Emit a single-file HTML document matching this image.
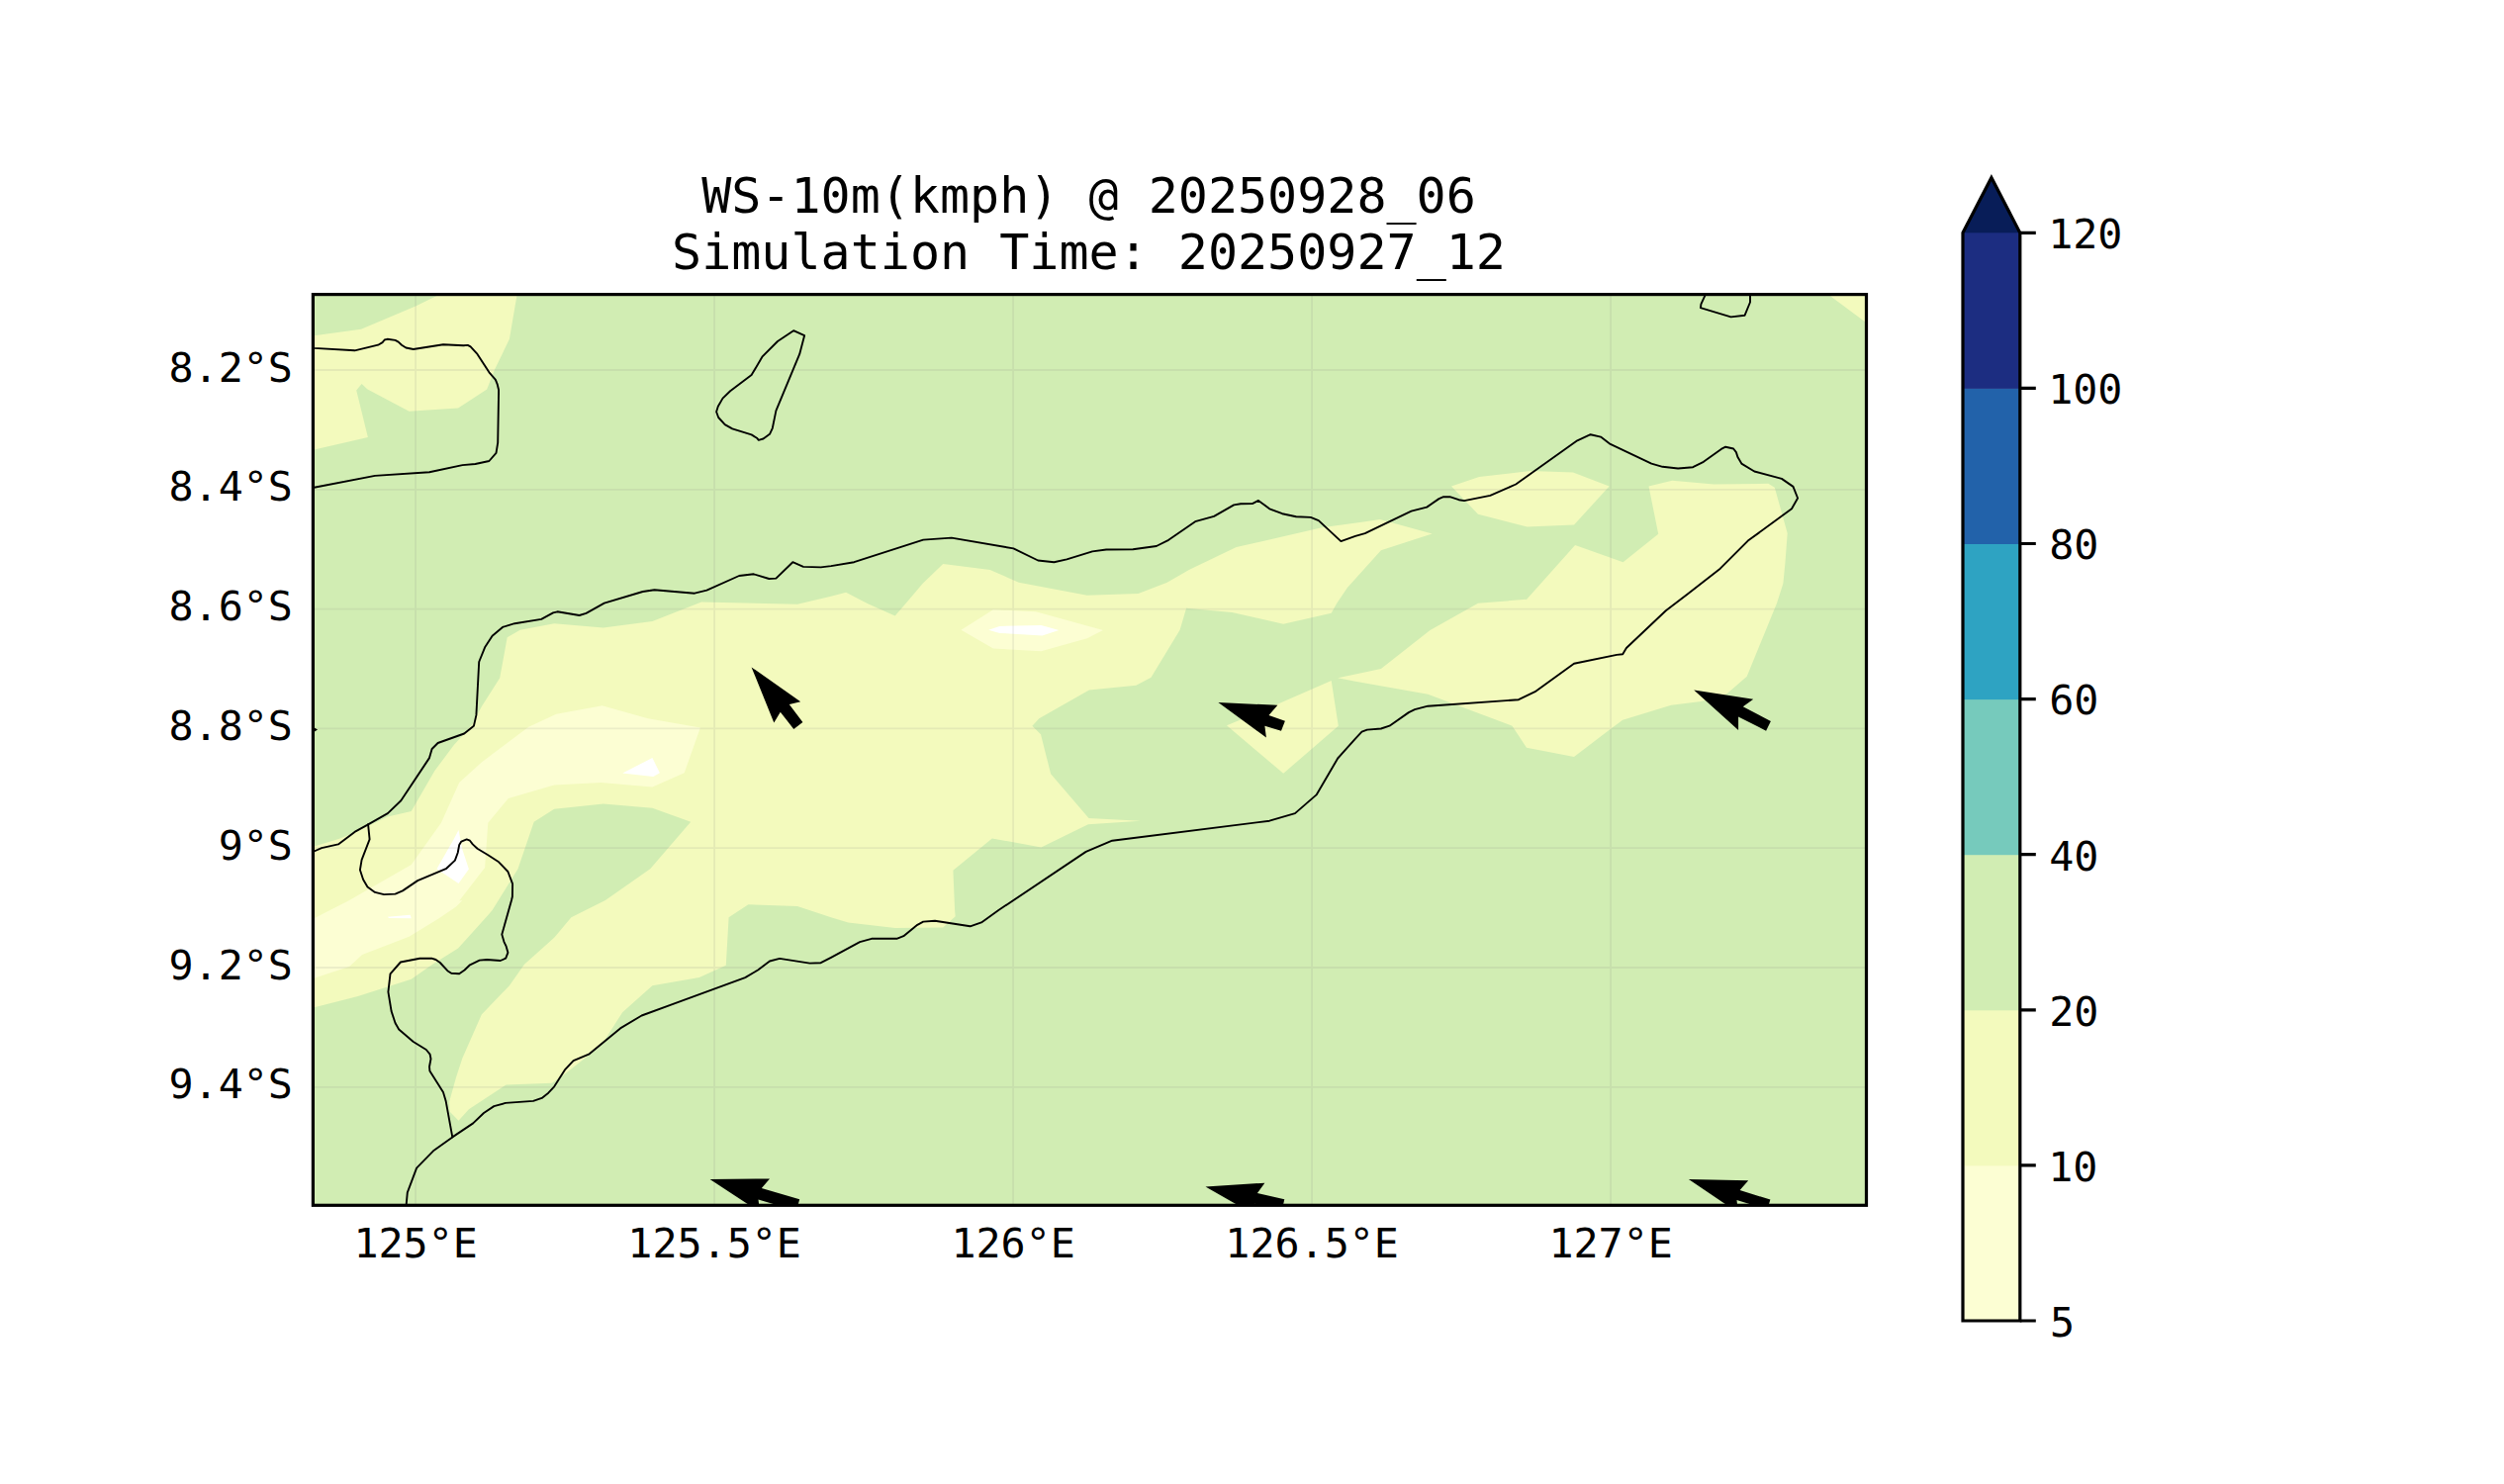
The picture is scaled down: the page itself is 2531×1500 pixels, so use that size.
<!DOCTYPE html>
<html lang="en"><head><meta charset="utf-8"><title>WS-10m(kmph) @ 20250928_06</title>
<style>html,body{margin:0;padding:0;background:#fff}body{width:2531px;height:1500px;overflow:hidden}svg{display:block}text{font-family:"DejaVu Sans Mono","Liberation Mono",monospace;fill:#000}</style>
</head><body>
<svg width="2531" height="1500" viewBox="0 0 2531 1500">
<defs><clipPath id="ax"><rect x="316.4" y="297.6" width="1570.1" height="920.7"/></clipPath></defs>
<rect x="0" y="0" width="2531" height="1500" fill="#fff"/>
<text x="1100.5" y="215" font-size="50" text-anchor="middle" xml:space="preserve">WS-10m(kmph) @ 20250928_06</text>
<text x="1100.5" y="272" font-size="50" text-anchor="middle" xml:space="preserve">Simulation Time: 20250927_12</text>
<g clip-path="url(#ax)">
<rect x="316.4" y="297.6" width="1570.1" height="920.7" fill="#d1edb3"/>
<path d="M299.2,855.6 L317.5,855.6 L342.3,848.0 L358.5,841.5 L391.9,825.4 L415.7,820.0 L439.4,779.0 L458.8,753.1 L469.6,741.3 L477.1,732.6 L486.8,714.3 L505.2,685.2 L512.7,644.2 L525.7,636.7 L560.2,630.2 L609.8,634.5 L659.4,628.0 L709.0,608.6 L806.0,610.8 L840.0,602.7 L855.1,598.8 L876.7,610.0 L904.7,622.6 L915.5,610.0 L932.7,589.8 L953.2,569.9 L1000.7,576.0 L1029.8,588.7 L1098.8,601.8 L1150.5,600.1 L1179.7,588.7 L1202.3,575.7 L1249.7,553.1 L1336.0,533.3 L1380.0,527.2 L1394.8,525.1 L1447.6,539.5 L1395.9,556.3 L1361.9,594.1 L1351.1,610.0 L1345.7,619.8 L1297.2,630.8 L1245.4,619.0 L1199.1,614.7 L1192.6,636.7 L1163.5,684.8 L1148.4,692.7 L1100.9,697.5 L1050.3,726.2 L1043.4,733.7 L1052.0,742.3 L1062.1,782.2 L1100.5,826.9 L1152.7,829.7 L1099.9,833.3 L1052.4,856.6 L1002.8,847.4 L963.4,879.7 L965.1,920.0 L965.7,926.2 L953.2,937.6 L904.7,938.0 L857.3,932.6 L840.0,927.3 L806.0,916.0 L756.4,914.3 L736.6,927.3 L733.8,975.8 L706.8,988.1 L659.4,996.3 L629.2,1023.2 L611.9,1050.2 L596.8,1065.3 L572.0,1084.7 L558.0,1094.8 L511.6,1096.5 L473.9,1121.3 L463.5,1132.8 L454.5,1123.5 L454.1,1113.8 L461.0,1089.0 L467.4,1069.6 L486.8,1025.4 L514.9,996.3 L530.0,974.7 L560.2,947.7 L577.4,927.3 L611.9,910.0 L657.2,878.2 L698.2,830.8 L659.4,816.7 L609.8,812.4 L560.2,817.8 L539.7,830.8 L523.5,878.2 L497.6,920.0 L493.3,925.1 L482.5,937.0 L463.1,958.5 L437.2,974.7 L415.7,989.8 L361.8,1007.0 L317.5,1018.3 L299.2,1022.1Z" fill="#f3fabd"/>
<path d="M1666.5,491.6 L1690.2,485.8 L1732.3,489.5 L1787.3,488.8 L1793.8,492.7 L1806.7,539.1 L1804.5,568.2 L1802.4,589.8 L1795.9,610.0 L1765.7,683.7 L1745.2,701.4 L1719.4,708.9 L1689.2,712.8 L1640.2,727.7 L1627.7,736.9 L1591.0,765.0 L1543.0,755.7 L1528.5,733.7 L1443.3,701.8 L1370.0,688.8 L1352.2,685.2 L1370.0,681.5 L1395.9,675.9 L1445.5,637.1 L1494.0,609.7 L1542.5,605.8 L1542.5,606.6 L1592.1,550.9 L1640.6,568.2 L1676.2,539.7Z" fill="#f3fabd"/>
<path d="M299.2,340.7 L317.5,339.2 L365.0,332.7 L420.0,309.4 L441.5,299.1 L461.0,285.7 L523.5,285.7 L522.4,299.1 L514.9,342.8 L499.8,374.1 L492.2,393.5 L463.1,412.5 L413.5,415.7 L371.5,393.5 L365.6,388.1 L360.2,394.6 L371.9,442.0 L317.5,454.5 L299.2,458.2Z" fill="#f3fabd"/>
<path d="M1467.0,491.6 L1495.1,481.9 L1546.8,476.1 L1590.0,477.6 L1626.6,491.6 L1591.0,530.5 L1543.6,532.6 L1494.0,519.7Z" fill="#f3fabd"/>
<path d="M1345.7,688.0 L1352.8,733.7 L1297.2,781.8 L1240.0,733.3 L1290.7,712.1Z" fill="#f3fabd"/>
<path d="M1849.8,299.1 L1831.5,285.7 L1909.1,285.7 L1909.1,343.9 L1885.4,325.6Z" fill="#f3fabd"/>
<path d="M608.7,713.2 L655.0,726.2 L707.9,735.4 L691.7,781.2 L659.4,795.6 L607.6,790.9 L560.2,793.4 L513.8,807.0 L493.3,831.8 L490.1,877.1 L464.2,910.5 L467.4,910.0 L461.0,916.5 L443.7,928.3 L413.5,946.7 L366.1,965.0 L353.1,976.9 L317.5,988.7 L299.2,994.1 L299.2,933.7 L317.5,928.3 L353.1,910.0 L415.7,873.9 L445.9,831.8 L464.2,790.9 L486.8,770.4 L534.3,734.8 L562.3,721.8Z" fill="#fcfed3"/>
<path d="M971.5,636.7 L1003.9,616.2 L1047.0,618.3 L1115.0,637.1 L1098.8,645.3 L1052.4,658.2 L1003.9,655.6Z" fill="#fcfed3"/>
<path d="M659.4,766.1 L666.9,781.2 L660.4,785.0 L629.2,781.6Z" fill="#fff"/>
<path d="M463.5,838.9 L467.4,858.8 L473.9,878.6 L463.5,892.9 L441.5,878.2 L458.8,848.0Z" fill="#fff"/>
<path d="M999.2,636.7 L1010.4,633.0 L1052.4,631.9 L1070.3,637.1 L1053.5,642.5 L1010.4,639.9Z" fill="#fff"/>
<path d="M391.9,926.8 L414.6,924.7 L415.7,928.3 L393.0,927.9Z" fill="#fff"/>
<path d="M420.1,297.6V1218.3M722.1,297.6V1218.3M1024.1,297.6V1218.3M1326.1,297.6V1218.3M1628.1,297.6V1218.3M316.4,374.0H1886.5M316.4,494.8H1886.5M316.4,615.6H1886.5M316.4,736.4H1886.5M316.4,857.2H1886.5M316.4,978.0H1886.5M316.4,1098.8H1886.5" fill="none" stroke="#808080" stroke-opacity="0.13" stroke-width="1.8"/>
<path d="M310.0,351.2 L317.5,351.9 L358.5,354.3 L382.2,348.7 L386.6,346.1 L388.7,343.5 L391.5,342.8 L399.5,343.9 L402.7,345.6 L406.0,348.7 L410.3,351.5 L417.8,353.0 L448.0,348.2 L468.5,349.3 L472.8,348.9 L475.6,350.4 L482.5,357.9 L494.4,376.3 L500.9,383.8 L502.6,388.1 L504.1,394.2 L503.2,447.4 L501.5,457.8 L494.4,466.0 L480.4,469.0 L467.4,470.1 L434.0,477.2 L379.0,480.9 L317.5,492.7 L310.0,494.2" fill="none" stroke="#000" stroke-width="1.9" stroke-linejoin="round" stroke-linecap="round"/>
<path d="M802.1,334.2 L813.1,339.2 L808.2,357.9 L784.4,415.1 L780.8,432.8 L778.0,438.8 L771.5,443.5 L766.8,444.8 L765.0,442.7 L759.6,439.4 L740.2,433.4 L732.7,429.1 L726.2,422.0 L724.1,416.2 L725.8,410.8 L730.5,402.6 L738.1,395.2 L759.6,379.1 L770.4,360.7 L786.0,345.0Z" fill="none" stroke="#000" stroke-width="1.9" stroke-linejoin="round" stroke-linecap="round"/>
<path d="M1724.8,294.3 L1723.2,299.1 L1719.4,307.3 L1718.9,311.1 L1749.6,320.4 L1763.6,318.7 L1769.0,305.5 L1769.0,299.1 L1769.0,294.3" fill="none" stroke="#000" stroke-width="1.9" stroke-linejoin="round" stroke-linecap="round"/>
<path d="M310.0,863.5 L317.5,860.5 L325.1,857.1 L341.9,853.4 L358.5,840.9 L372.1,833.3 L391.9,822.1 L405.3,809.2 L434.0,766.1 L436.6,757.0 L442.6,751.0 L469.2,741.5 L478.9,733.7 L481.4,722.9 L484.2,669.0 L490.1,654.3 L497.6,642.7 L508.0,633.9 L520.3,630.2 L547.2,625.9 L559.1,619.4 L563.4,618.3 L585.6,622.0 L592.5,619.8 L610.8,609.7 L649.7,598.0 L661.5,596.2 L702.1,599.7 L714.4,596.7 L747.1,582.0 L761.8,580.3 L777.3,585.0 L784.4,584.6 L801.3,568.2 L812.0,572.9 L829.7,573.4 L840.0,572.1 L863.3,568.2 L933.2,545.6 L961.8,543.6 L1024.4,554.4 L1049.2,566.5 L1065.4,568.2 L1078.3,565.4 L1104.2,557.4 L1118.2,555.5 L1145.2,555.3 L1168.9,552.0 L1181.2,545.8 L1208.1,527.2 L1227.1,521.8 L1247.2,510.4 L1254.1,509.3 L1265.9,509.1 L1272.0,505.9 L1283.2,514.3 L1296.1,519.2 L1310.1,522.3 L1324.8,522.9 L1332.8,526.1 L1355.4,547.1 L1370.0,541.9 L1379.7,539.1 L1426.5,516.7 L1442.2,512.6 L1454.5,504.1 L1459.1,502.2 L1465.5,502.2 L1474.6,505.2 L1480.0,506.1 L1506.3,500.9 L1532.2,489.5 L1594.3,445.3 L1607.7,439.2 L1618.0,441.6 L1627.7,448.9 L1669.3,468.6 L1680.5,471.8 L1696.1,473.5 L1711.2,472.2 L1721.9,466.8 L1739.8,453.9 L1744.2,451.7 L1752.1,453.5 L1754.9,457.1 L1756.5,462.1 L1760.3,468.6 L1773.3,476.5 L1800.9,483.9 L1812.5,491.9 L1817.1,503.5 L1811.0,514.3 L1766.8,546.6 L1738.8,574.7 L1706.4,600.0 L1683.8,617.3 L1643.9,655.0 L1640.2,661.2 L1634.2,661.9 L1591.0,670.7 L1551.6,699.2 L1535.0,707.2 L1443.3,713.7 L1430.0,717.1 L1423.9,720.1 L1404.5,733.7 L1395.9,736.5 L1381.9,737.6 L1376.5,739.7 L1370.0,746.6 L1352.2,766.5 L1330.6,803.4 L1309.0,822.1 L1283.2,829.7 L1124.2,849.7 L1097.7,860.9 L1009.3,920.0 L992.0,932.4 L980.6,936.3 L945.0,930.7 L933.2,931.6 L927.3,934.8 L913.3,946.2 L906.4,948.8 L881.0,948.8 L869.1,952.1 L840.0,967.8 L829.7,973.2 L818.5,973.6 L788.1,968.9 L778.0,971.5 L766.1,980.5 L753.2,988.1 L648.6,1026.5 L627.0,1039.4 L595.7,1065.3 L579.6,1072.2 L570.9,1081.4 L560.2,1098.3 L554.3,1104.7 L547.7,1109.9 L539.0,1112.9 L511.0,1114.9 L499.3,1118.1 L489.0,1125.0 L478.2,1135.4 L457.3,1149.4 L438.7,1162.7 L421.1,1180.6 L411.8,1205.4 L410.7,1217.3 L410.3,1222.7" fill="none" stroke="#000" stroke-width="1.9" stroke-linejoin="round" stroke-linecap="round"/>
<path d="M372.1,833.3 L373.6,848.4 L365.6,869.1 L363.9,879.3 L367.1,889.0 L371.5,896.5 L379.0,901.9 L388.1,904.1 L399.5,903.6 L407.0,900.4 L422.1,890.1 L451.3,877.8 L459.9,869.6 L462.7,862.0 L464.2,854.0 L466.3,850.6 L471.7,848.4 L475.0,849.7 L477.8,853.4 L482.5,857.7 L493.3,864.2 L504.1,871.3 L513.4,881.0 L518.1,893.3 L517.9,906.2 L517.0,910.0 L507.3,944.5 L509.5,952.1 L511.6,956.4 L513.4,962.8 L511.2,968.7 L505.8,971.0 L492.2,970.0 L484.7,970.6 L475.0,975.3 L469.6,980.5 L464.2,984.2 L456.2,983.8 L452.3,981.2 L444.8,973.0 L440.5,970.0 L436.2,968.7 L424.3,968.7 L404.9,972.5 L394.5,984.4 L392.4,1002.7 L395.6,1022.1 L399.5,1034.0 L403.2,1040.5 L417.8,1053.0 L430.8,1061.0 L434.6,1065.7 L435.5,1070.2 L434.0,1078.2 L434.4,1082.5 L448.0,1104.1 L450.6,1112.7 L457.3,1149.4" fill="none" stroke="#000" stroke-width="1.9" stroke-linejoin="round" stroke-linecap="round"/>
<path d="M316,734.5L321,737.6L316,740.7Z" fill="#000"/>
<path d="M759.6,674.4 L809.2,709.3 L797.8,712.1 L811.4,730.0 L802.3,736.9 L788.8,719.7 L782.3,730.5Z" fill="#000"/>
<path d="M1231.4,710.0 L1291.4,712.8 L1282.5,722.9 L1298.9,728.7 L1295.0,738.7 L1278.4,733.7 L1279.9,745.6Z" fill="#000"/>
<path d="M1712.2,697.5 L1772.2,706.7 L1761.8,714.3 L1789.9,729.0 L1785.1,738.7 L1757.1,724.4 L1757.1,738.0Z" fill="#000"/>
<path d="M717.6,1192.1 L778.0,1191.4 L769.8,1201.1 L808.2,1212.3 L804.9,1223.8 L766.5,1212.6 L768.2,1225.2Z" fill="#000"/>
<path d="M1218.5,1199.4 L1278.4,1195.7 L1270.9,1205.9 L1298.3,1212.3 L1295.8,1223.2 L1268.4,1216.8 L1270.6,1229.3Z" fill="#000"/>
<path d="M1706.9,1192.1 L1767.2,1193.2 L1758.6,1202.9 L1789.4,1212.6 L1786.3,1222.6 L1755.5,1212.9 L1756.9,1225.8Z" fill="#000"/>
</g>
<rect x="316.4" y="297.6" width="1570.1" height="920.7" fill="none" stroke="#000" stroke-width="3.2"/>
<text x="420.1" y="1271.2" font-size="41.67" text-anchor="middle">125°E</text>
<text x="722.1" y="1271.2" font-size="41.67" text-anchor="middle">125.5°E</text>
<text x="1024.1" y="1271.2" font-size="41.67" text-anchor="middle">126°E</text>
<text x="1326.1" y="1271.2" font-size="41.67" text-anchor="middle">126.5°E</text>
<text x="1628.1" y="1271.2" font-size="41.67" text-anchor="middle">127°E</text>
<text x="295.9" y="385.5" font-size="41.67" text-anchor="end">8.2°S</text>
<text x="295.9" y="506.3" font-size="41.67" text-anchor="end">8.4°S</text>
<text x="295.9" y="627.1" font-size="41.67" text-anchor="end">8.6°S</text>
<text x="295.9" y="747.9" font-size="41.67" text-anchor="end">8.8°S</text>
<text x="295.9" y="868.7" font-size="41.67" text-anchor="end">9°S</text>
<text x="295.9" y="989.5" font-size="41.67" text-anchor="end">9.2°S</text>
<text x="295.9" y="1110.3" font-size="41.67" text-anchor="end">9.4°S</text>
<path d="M1984.0,236.3L1984.0,235.3L2012.9,179.5L2041.8,235.3L2041.8,236.3Z" fill="#081d58"/>
<rect x="1984.0" y="1177.9" width="57.8" height="157.6" fill="#fcfed3"/>
<rect x="1984.0" y="1020.8" width="57.8" height="157.6" fill="#f3fabd"/>
<rect x="1984.0" y="863.7" width="57.8" height="157.6" fill="#d1edb3"/>
<rect x="1984.0" y="706.6" width="57.8" height="157.6" fill="#76cabc"/>
<rect x="1984.0" y="549.5" width="57.8" height="157.6" fill="#2ea3c2"/>
<rect x="1984.0" y="392.4" width="57.8" height="157.6" fill="#2262aa"/>
<rect x="1984.0" y="235.3" width="57.8" height="157.6" fill="#1c2d81"/>
<path d="M1984.0,235.3L2012.9,179.5L2041.8,235.3V1335.0H1984.0Z" fill="none" stroke="#000" stroke-width="3.2" stroke-linejoin="miter"/>
<text x="2070.2" y="250.5" font-size="41.67">120</text>
<text x="2070.2" y="407.7" font-size="41.67">100</text>
<text x="2071.2" y="565.0" font-size="41.67">80</text>
<text x="2071.2" y="722.2" font-size="41.67">60</text>
<text x="2071.2" y="879.5" font-size="41.67">40</text>
<text x="2071.2" y="1036.7" font-size="41.67">20</text>
<text x="2070.2" y="1194.0" font-size="41.67">10</text>
<text x="2072.0" y="1351.2" font-size="41.67">5</text>
<path d="M2041.8,235.3h16M2041.8,392.4h16M2041.8,549.5h16M2041.8,706.6h16M2041.8,863.7h16M2041.8,1020.8h16M2041.8,1177.9h16M2041.8,1335.0h16" fill="none" stroke="#000" stroke-width="3.2"/>
</svg></body></html>
